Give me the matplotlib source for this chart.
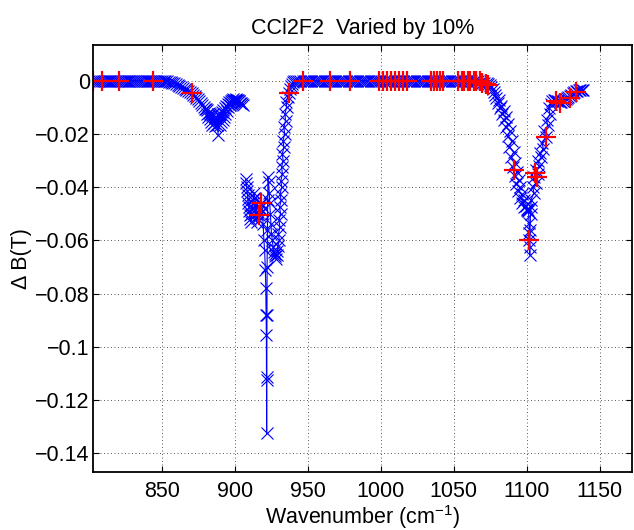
import numpy as np
import matplotlib
matplotlib.use("Agg")
import matplotlib.pyplot as plt

plt.rcParams["font.family"] = ["Liberation Sans", "DejaVu Sans"]
plt.rcParams["mathtext.default"] = "regular"

# --- data ------------------------------------------------------------------
# flat part at the low end of the scan
wn_flat_lo = [803.3, 804.6, 805.9, 807.2, 808.5, 809.8, 811.1, 812.4, 813.7, 815.0,
              816.3, 817.6, 818.9, 820.2, 821.5, 822.8, 824.1, 825.4, 826.7, 828.0,
              829.3, 830.6, 831.9, 833.2, 834.5, 835.8, 837.1, 838.4, 839.7, 841.0,
              842.3, 843.6, 844.9, 846.2, 847.5, 848.8, 850.1]
db_flat_lo = [0.0, 0.0, 0.0, 0.0, 0.0, 0.0, 0.0, 0.0, 0.0, 0.0,
              0.0, 0.0, 0.0, 0.0, 0.0, 0.0, 0.0, 0.0, 0.0, 0.0,
              0.0, 0.0, 0.0, 0.0, 0.0, 0.0, 0.0, 0.0, 0.0, 0.0,
              0.0, 0.0, 0.0, 0.0, 0.0, 0.0, 0.0]

# first band (~850-906)
wn_band1 = [851.3, 852.5, 853.7, 854.9, 856.1, 857.3, 858.5, 859.7, 860.9, 862.1,
            863.3, 864.5, 865.7, 866.9, 868.1, 869.3, 870.5, 871.6, 872.7, 873.8,
            874.9, 875.9, 876.9, 877.8, 878.7, 879.5, 880.2, 880.8, 881.3, 881.8,
            882.3, 882.8, 883.3, 883.8, 884.3, 884.8, 885.3, 885.8, 886.3, 886.8,
            887.3, 887.8, 888.3, 888.6, 889.2, 889.7, 890.2, 890.7, 891.2, 891.7,
            892.2, 892.7, 893.2, 893.7, 894.2, 894.7, 895.2, 895.7, 896.2, 896.7,
            897.2, 897.7, 898.2, 898.7, 899.2, 899.7, 900.2, 900.7, 901.2, 901.7,
            902.2, 902.7, 903.2, 903.7, 904.2, 904.8, 905.4]
db_band1 = [-0.0001, -0.0002, -0.0003, -0.0004, -0.0006, -0.0008, -0.0010, -0.0013, -0.0016, -0.0020,
            -0.0024, -0.0028, -0.0032, -0.0036, -0.0040, -0.0044, -0.0048, -0.0053, -0.0058, -0.0064,
            -0.0070, -0.0077, -0.0084, -0.0092, -0.0100, -0.0108, -0.0105, -0.0125, -0.0110, -0.0135,
            -0.0120, -0.0145, -0.0125, -0.0155, -0.0130, -0.0165, -0.0125, -0.0158, -0.0135, -0.0172,
            -0.0140, -0.0168, -0.0125, -0.0205, -0.0132, -0.0165, -0.0125, -0.0155, -0.0118, -0.0148,
            -0.0110, -0.0135, -0.0102, -0.0125, -0.0095, -0.0112, -0.0088, -0.0100, -0.0080, -0.0090,
            -0.0075, -0.0083, -0.0072, -0.0078, -0.0070, -0.0076, -0.0071, -0.0074, -0.0070, -0.0074,
            -0.0073, -0.0078, -0.0077, -0.0082, -0.0083, -0.0088, -0.0092]

# second band (~907-941) with the deep spike
wn_band2 = [907.6, 907.9, 908.2, 908.5, 908.8, 909.1, 909.4, 909.7, 910.0, 910.3,
            910.6, 910.9, 911.5, 912.0, 912.5, 913.0, 913.4, 913.8, 914.2, 914.6,
            915.0, 915.6, 916.2, 916.7, 917.3, 917.8, 918.3, 918.9, 919.5, 920.0,
            920.5, 921.0, 921.3, 921.5, 921.7, 921.8, 921.9, 922.0, 922.1, 922.2,
            922.4, 922.6, 922.8, 923.2, 923.6, 924.0, 924.4, 924.8, 925.2, 925.8,
            926.3, 926.8, 927.3, 927.8, 928.3, 928.8, 929.3, 929.6, 930.6, 929.9,
            931.0, 930.3, 931.4, 930.7, 931.8, 931.1, 932.2, 931.6, 932.7, 932.1,
            933.2, 932.6, 933.7, 933.1, 934.2, 933.7, 934.8, 934.4, 935.5, 935.4,
            936.3, 937.0, 937.6, 938.3, 939.0, 939.8, 940.6]
db_band2 = [-0.0370, -0.0385, -0.0400, -0.0415, -0.0430, -0.0445, -0.0460, -0.0475, -0.0490, -0.0505,
            -0.0520, -0.0530, -0.0500, -0.0480, -0.0460, -0.0440, -0.0420, -0.0440, -0.0470, -0.0500,
            -0.0530, -0.0515, -0.0495, -0.0505, -0.0480, -0.0465, -0.0460, -0.0490, -0.0540, -0.0600,
            -0.0636, -0.0711, -0.0780, -0.0880, -0.0956, -0.1112, -0.1325, -0.1125, -0.0880, -0.0700,
            -0.0560, -0.0450, -0.0360, -0.0380, -0.0420, -0.0460, -0.0500, -0.0540, -0.0575, -0.0600,
            -0.0625, -0.0645, -0.0660, -0.0650, -0.0670, -0.0655, -0.0640, -0.0620, -0.0600, -0.0575,
            -0.0550, -0.0525, -0.0500, -0.0475, -0.0450, -0.0425, -0.0400, -0.0375, -0.0350, -0.0325,
            -0.0300, -0.0275, -0.0250, -0.0225, -0.0200, -0.0175, -0.0150, -0.0125, -0.0100, -0.0080,
            -0.0062, -0.0047, -0.0033, -0.0020, -0.0011, -0.0005, -0.0002]

# flat part in the middle of the scan
wn_flat_hi = [942.0, 943.5, 945.0, 946.5, 948.0, 949.5, 951.0, 952.5, 954.0, 955.5,
              957.0, 958.5, 960.0, 961.5, 963.0, 964.5, 966.0, 967.5, 969.0, 970.5,
              972.0, 973.5, 975.0, 976.5, 978.0, 979.5, 981.0, 982.5, 984.0, 985.5,
              987.0, 988.5, 990.0, 991.5, 993.0, 994.5, 996.0, 997.5, 999.0, 1000.5,
              1002.0, 1003.5, 1005.0, 1006.5, 1008.0, 1009.5, 1011.0, 1012.5, 1014.0, 1015.5,
              1017.0, 1018.5, 1020.0, 1021.5, 1023.0, 1024.5, 1026.0, 1027.5, 1029.0, 1030.5,
              1032.0, 1033.5, 1035.0, 1036.5, 1038.0, 1039.5, 1041.0, 1042.5, 1044.0, 1045.5,
              1047.0, 1048.5, 1050.0, 1051.5, 1053.0, 1054.5, 1056.0, 1057.5, 1059.0, 1060.5,
              1062.0, 1063.5, 1065.0, 1066.5, 1068.0, 1069.5, 1071.0]
db_flat_hi = [0.0, 0.0, 0.0, 0.0, 0.0, 0.0, 0.0, 0.0, 0.0, 0.0,
              0.0, 0.0, 0.0, 0.0, 0.0, 0.0, 0.0, 0.0, 0.0, 0.0,
              0.0, 0.0, 0.0, 0.0, 0.0, 0.0, 0.0, 0.0, 0.0, 0.0,
              0.0, 0.0, 0.0, 0.0, 0.0, 0.0, 0.0, 0.0, 0.0, 0.0,
              0.0, 0.0, 0.0, 0.0, 0.0, 0.0, 0.0, 0.0, 0.0, 0.0,
              0.0, 0.0, 0.0, 0.0, 0.0, 0.0, 0.0, 0.0, 0.0, 0.0,
              0.0, 0.0, 0.0, 0.0, 0.0, 0.0, 0.0, 0.0, 0.0, 0.0,
              0.0, 0.0, 0.0, 0.0, 0.0, 0.0, 0.0, 0.0, 0.0, 0.0,
              0.0, 0.0, -0.0002, -0.0003, -0.0005, -0.0007, -0.0010]

# third band (~1072-1138), scattered sampling on both flanks
wn_band3 = [1072.5, 1073.5, 1074.5, 1075.5, 1076.5, 1077.5, 1078.5, 1078.6, 1080.8, 1080.0,
            1082.6, 1081.4, 1084.4, 1082.9, 1085.8, 1084.3, 1087.2, 1085.7, 1088.5, 1086.9,
            1089.7, 1088.1, 1090.9, 1089.3, 1092.1, 1090.4, 1093.2, 1091.6, 1094.4, 1092.8,
            1095.6, 1094.0, 1096.8, 1095.2, 1098.0, 1096.6, 1099.2, 1097.8, 1100.2, 1100.0,
            1100.6, 1101.1, 1101.5, 1101.7, 1101.8, 1101.9, 1102.0, 1102.2, 1102.5, 1102.9,
            1102.7, 1104.9, 1103.9, 1106.0, 1105.1, 1107.3, 1106.4, 1108.6, 1107.7, 1109.9,
            1109.0, 1111.3, 1110.4, 1112.8, 1112.0, 1114.3, 1113.5, 1115.8, 1115.0, 1116.6,
            1117.5, 1118.5, 1119.5, 1120.5, 1121.5, 1122.5, 1123.5, 1124.5, 1125.5, 1126.5,
            1127.5, 1128.5, 1129.5, 1130.5, 1131.5, 1132.5, 1133.5, 1134.5, 1135.5, 1136.5,
            1137.5, 1138.2]
db_band3 = [-0.0010, -0.0014, -0.0018, -0.0024, -0.0032, -0.0042, -0.0053, -0.0064, -0.0074, -0.0084,
            -0.0095, -0.0104, -0.0114, -0.0124, -0.0136, -0.0149, -0.0161, -0.0174, -0.0190, -0.0208,
            -0.0227, -0.0248, -0.0268, -0.0288, -0.0308, -0.0326, -0.0342, -0.0358, -0.0374, -0.0388,
            -0.0401, -0.0414, -0.0427, -0.0440, -0.0450, -0.0460, -0.0469, -0.0476, -0.0481, -0.0484,
            -0.0486, -0.0490, -0.0536, -0.0573, -0.0600, -0.0624, -0.0655, -0.0560, -0.0500, -0.0473,
            -0.0450, -0.0420, -0.0398, -0.0386, -0.0362, -0.0350, -0.0336, -0.0320, -0.0303, -0.0288,
            -0.0273, -0.0255, -0.0235, -0.0212, -0.0190, -0.0168, -0.0148, -0.0125, -0.0103, -0.0087,
            -0.0078, -0.0074, -0.0073, -0.0075, -0.0078, -0.0080, -0.0080, -0.0077, -0.0072, -0.0068,
            -0.0064, -0.0061, -0.0057, -0.0052, -0.0047, -0.0043, -0.0040, -0.0038, -0.0036, -0.0035,
            -0.0035, -0.0036]

# red "+" points
wn_marked = [803.3, 809.0, 821.0, 843.8, 870.5, 916.7, 918.3, 937.0, 946.6, 965.0,
             979.0, 998.5, 1001.3, 1004.0, 1006.7, 1009.5, 1012.2, 1014.9, 1017.7, 1034.1,
             1036.2, 1038.2, 1040.3, 1042.3, 1053.2, 1055.3, 1057.3, 1059.4, 1061.4, 1063.5,
             1065.5, 1067.6, 1069.6, 1071.7, 1073.7, 1091.5, 1101.8, 1105.9, 1107.2, 1113.2,
             1120.0, 1123.0, 1129.2, 1133.7]
db_marked = [0.0, 0.0, 0.0, 0.0, -0.0048, -0.0505, -0.0460, -0.0047, 0.0, 0.0,
             0.0, 0.0, 0.0, 0.0, 0.0, 0.0, 0.0, 0.0, 0.0, 0.0,
             0.0, 0.0, 0.0, 0.0, 0.0, 0.0, 0.0, 0.0, 0.0, 0.0,
             0.0, 0.0, -0.0008, -0.0012, -0.0016, -0.0336, -0.0600, -0.0348, -0.0362, -0.0210,
             -0.0078, -0.0083, -0.0066, -0.0041]

x_ticks = [850, 900, 950, 1000, 1050, 1100, 1150]
y_ticks = [0, -0.02, -0.04, -0.06, -0.08, -0.1, -0.12, -0.14]
y_tick_labels = ["0", "\u22120.02", "\u22120.04", "\u22120.06", "\u22120.08",
                 "\u22120.1", "\u22120.12", "\u22120.14"]


def style_axes(ax):
    """
    MATLAB-like look: boxed axes, inward ticks on all sides, dotted grid.
    """
    ax.set_xlim(803.25, 1172)
    ax.set_ylim(-0.1471, 0.01353)
    ax.set_xticks(x_ticks)
    ax.set_yticks(y_ticks)
    ax.set_yticklabels(y_tick_labels)
    ax.tick_params(direction="in", length=4, width=0.8, top=True, right=True,
                   labelsize=15.5, colors="black")
    ax.tick_params(axis="x", pad=6)
    ax.tick_params(axis="y", pad=2.5)
    for side in ax.spines.values():
        side.set_linewidth(1.3)
    ax.grid(True, color="0.35", linestyle=(0, (1, 2.6)), linewidth=0.7)
    ax.set_axisbelow(True)


fig = plt.figure(figsize=(6.34, 5.30), dpi=100)
ax = fig.add_axes([0.1472, 0.1089, 0.8497, 0.8068])

style_axes(ax)

line_kw = dict(color="blue", marker="x", markersize=8, markeredgewidth=0.8, linewidth=0.8)
ax.plot(wn_flat_lo + wn_band1, db_flat_lo + db_band1, **line_kw)
ax.plot(wn_band2 + wn_flat_hi + wn_band3, db_band2 + db_flat_hi + db_band3, **line_kw)
ax.plot(wn_marked, db_marked, linestyle="none", marker="+", color="red",
        markersize=14, markeredgewidth=1.6)

ax.set_title("CCl2F2  Varied by 10%", fontsize=15.5, pad=8)
ax.set_xlabel("Wavenumber (cm$^{\u22121}$)", fontsize=15.5, labelpad=1)
ax.set_ylabel("\u0394 B(T)", fontsize=15.5, labelpad=2)

fig.savefig("out.png", dpi=100)
